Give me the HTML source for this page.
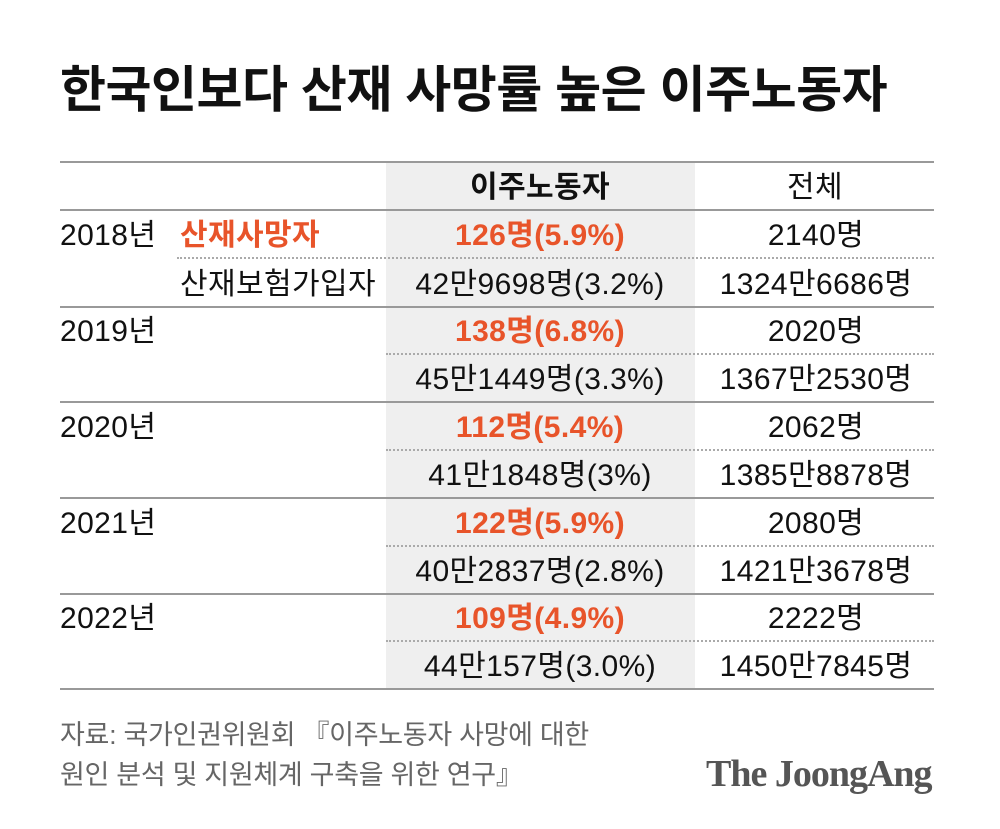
<!DOCTYPE html>
<html><head><meta charset="utf-8"><style>
body{margin:0;width:1000px;height:829px;background:#fff;position:relative;overflow:hidden;font-family:"Liberation Sans","Noto Sans CJK KR",sans-serif;color:#111}
.a{position:absolute;white-space:nowrap}
.t{font-size:30px;line-height:32px;letter-spacing:0.4px}
.c{transform:translateX(-50%)}
.o{color:#e8542a;font-weight:bold}
.hl{position:absolute;left:60px;width:874px;height:2px;background:#999}
.dl{position:absolute;right:66px;height:0;border-top:2px dotted #aaa}
</style></head><body>
<div class="a" style="left:60px;top:60px;font-size:50px;font-weight:bold;letter-spacing:-0.5px;line-height:60px">한국인보다 산재 사망률 높은 이주노동자</div>
<div class="a" style="left:386px;top:162px;width:309px;height:527px;background:#efefef"></div>
<div class="hl" style="top:161px"></div>
<div class="hl" style="top:209px"></div>
<div class="hl" style="top:306px"></div>
<div class="hl" style="top:401px"></div>
<div class="hl" style="top:497px"></div>
<div class="hl" style="top:593px"></div>
<div class="hl" style="top:688px"></div>
<div class="dl" style="top:257px;left:177px"></div>
<div class="dl" style="top:353px;left:386px"></div>
<div class="dl" style="top:449px;left:386px"></div>
<div class="dl" style="top:545px;left:386px"></div>
<div class="dl" style="top:640px;left:386px"></div>
<div class="a t c" style="left:540px;top:172px;font-weight:bold">이주노동자</div>
<div class="a t c" style="left:815px;top:172px">전체</div>

<div class="a t" style="left:60px;top:220px">2018년</div>
<div class="a t o" style="left:180px;top:220px">산재사망자</div>
<div class="a t" style="left:180px;top:269px">산재보험가입자</div>
<div class="a t" style="left:60px;top:316px">2019년</div>
<div class="a t" style="left:60px;top:412px">2020년</div>
<div class="a t" style="left:60px;top:508px">2021년</div>
<div class="a t" style="left:60px;top:603px">2022년</div>

<div class="a t c o" style="left:540px;top:220px">126명(5.9%)</div>
<div class="a t c" style="left:540px;top:269px">42만9698명(3.2%)</div>
<div class="a t c o" style="left:540px;top:316px">138명(6.8%)</div>
<div class="a t c" style="left:540px;top:364px">45만1449명(3.3%)</div>
<div class="a t c o" style="left:540px;top:412px">112명(5.4%)</div>
<div class="a t c" style="left:540px;top:460px">41만1848명(3%)</div>
<div class="a t c o" style="left:540px;top:508px">122명(5.9%)</div>
<div class="a t c" style="left:540px;top:556px">40만2837명(2.8%)</div>
<div class="a t c o" style="left:540px;top:603px">109명(4.9%)</div>
<div class="a t c" style="left:540px;top:651px">44만157명(3.0%)</div>

<div class="a t c" style="left:816px;top:220px">2140명</div>
<div class="a t c" style="left:816px;top:269px">1324만6686명</div>
<div class="a t c" style="left:816px;top:316px">2020명</div>
<div class="a t c" style="left:816px;top:364px">1367만2530명</div>
<div class="a t c" style="left:816px;top:412px">2062명</div>
<div class="a t c" style="left:816px;top:460px">1385만8878명</div>
<div class="a t c" style="left:816px;top:508px">2080명</div>
<div class="a t c" style="left:816px;top:556px">1421만3678명</div>
<div class="a t c" style="left:816px;top:603px">2222명</div>
<div class="a t c" style="left:816px;top:651px">1450만7845명</div>

<div class="a" style="left:60px;top:715px;font-size:27px;line-height:40px;color:#666;letter-spacing:-0.3px">자료: 국가인권위원회 『이주노동자 사망에 대한<br>원인 분석 및 지원체계 구축을 위한 연구』</div>
<div class="a" style="left:706px;top:752px;font-family:'Liberation Serif',serif;font-weight:bold;font-size:38px;line-height:44px;color:#555;letter-spacing:-1px">The JoongAng</div>
</body></html>
